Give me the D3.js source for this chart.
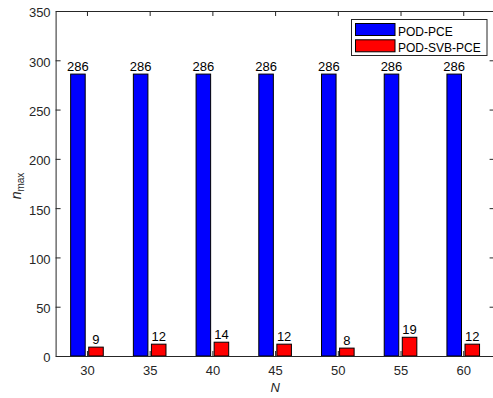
<!DOCTYPE html>
<html>
<head>
<meta charset="utf-8">
<script src="https://cdn.jsdelivr.net/npm/d3@7"></script>
<style>
  html, body { margin: 0; padding: 0; background: #fff; }
  svg { display: block; }
  text { font-family: "Liberation Sans", Arial, Helvetica, sans-serif; }
</style>
</head>
<body>
<svg id="chart" width="493" height="398"></svg>
<script>
const categories = [30, 35, 40, 45, 50, 55, 60];
const podPce = [286, 286, 286, 286, 286, 286, 286];
const podSvbPce = [9, 12, 14, 12, 8, 19, 12];
const seriesNames = ["POD-PCE", "POD-SVB-PCE"];
const seriesColors = ["#0000ff", "#ff0000"];
const yTicks = [0, 50, 100, 150, 200, 250, 300, 350];

const svg = d3.select("#chart");
const L = 55.6, R = 494.6, T = 11, B = 356;
const axisColor = "#262626";

const x = d3.scaleLinear().domain([27.5, 62.5]).range([L, R]);
const y = d3.scaleLinear().domain([0, 350]).range([B, T]);

// bars
const series = [podPce, podSvbPce];
const offsets = [[-1.3, -0.14], [0.14, 1.3]];
series.forEach((vals, si) => {
  const g = svg.append("g");
  g.selectAll("rect").data(categories).enter().append("rect")
    .attr("x", (d) => x(d + offsets[si][0]))
    .attr("width", (d) => x(d + offsets[si][1]) - x(d + offsets[si][0]))
    .attr("y", (d, i) => y(vals[i]))
    .attr("height", (d, i) => y(0) - y(vals[i]))
    .attr("fill", seriesColors[si])
    .attr("stroke", "#000")
    .attr("stroke-width", 1);
  g.selectAll("text").data(categories).enter().append("text")
    .attr("x", (d) => (x(d + offsets[si][0]) + x(d + offsets[si][1])) / 2)
    .attr("y", (d, i) => y(vals[i]) - 3.5)
    .attr("text-anchor", "middle")
    .attr("font-size", "13px")
    .attr("fill", "#000")
    .text((d, i) => vals[i]);
});

// axes
const yAxisL = d3.axisLeft(y).tickValues(yTicks).tickSizeInner(-5).tickSizeOuter(0).tickPadding(5);
const yAxisR = d3.axisRight(y).tickValues(yTicks).tickSizeInner(-5).tickSizeOuter(0).tickFormat("");
const xAxisB = d3.axisBottom(x).tickValues(categories).tickSizeInner(-5).tickSizeOuter(0).tickPadding(10);
const xAxisT = d3.axisTop(x).tickValues(categories).tickSizeInner(-5).tickSizeOuter(0).tickFormat("");

function style(g) {
  g.selectAll("path").attr("stroke", axisColor).attr("stroke-width", 1);
  g.selectAll("line").attr("stroke", axisColor).attr("stroke-width", 1);
  g.selectAll("text").attr("fill", axisColor).attr("font-size", "13px")
    .attr("font-family", "'Liberation Sans', Arial, sans-serif");
}
svg.append("g").attr("transform", `translate(${L},0)`).call(yAxisL).call(style)
  .selectAll("text").attr("dy", "0.45em");
svg.append("g").attr("transform", `translate(${R},0)`).call(yAxisR).call(style);
svg.append("g").attr("transform", `translate(0,${B})`).call(xAxisB).call(style);
svg.append("g").attr("transform", `translate(0,${T})`).call(xAxisT).call(style);

// axis labels
svg.append("text")
  .attr("x", (L + R) / 2).attr("y", 391.5)
  .attr("text-anchor", "middle")
  .attr("font-size", "13px").attr("font-style", "italic").attr("fill", axisColor)
  .text("N");

const yl = svg.append("text")
  .attr("transform", `translate(21,186) rotate(-90)`)
  .attr("text-anchor", "middle")
  .attr("font-family", "'Liberation Serif', 'Times New Roman', serif")
  .attr("fill", axisColor);
yl.append("tspan").attr("font-size", "14px").attr("font-style", "italic").text("n");
yl.append("tspan").attr("font-size", "10px").attr("dy", "3").text("max");

// legend
const lg = svg.append("g");
lg.append("rect").attr("x", 351.5).attr("y", 19.5).attr("width", 135.5).attr("height", 36)
  .attr("fill", "#fff").attr("stroke", axisColor).attr("stroke-width", 1);
seriesNames.forEach((name, i) => {
  lg.append("rect").attr("x", 355.5).attr("y", 23.5 + i * 16.3).attr("width", 39.5).attr("height", 12)
    .attr("fill", seriesColors[i]).attr("stroke", "#000").attr("stroke-width", 1);
  lg.append("text").attr("x", 398).attr("y", 35.5 + i * 16)
    .attr("font-size", "12px").attr("fill", "#000").text(name);
});
</script>
</body>
</html>
